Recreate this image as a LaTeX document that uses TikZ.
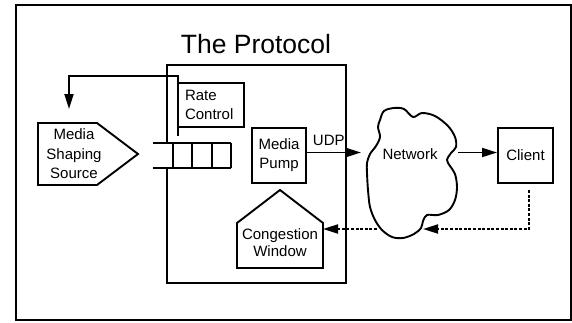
\documentclass[tikz,border=0pt]{standalone}
\usepackage{fontspec}
\setmainfont{Liberation Sans}
\usetikzlibrary{arrows.meta}
\begin{document}
\begin{tikzpicture}[x=1pt,y=-1pt, line width=1.9pt, line join=miter,
  lbl/.style={font=\fontsize{15}{19.5}\selectfont, align=center, inner sep=0pt},
  box/.style={draw, line width=1.9pt, inner sep=0pt, font=\fontsize{15}{19}\selectfont, align=center},
  arr/.style={-{Triangle[length=15pt,width=9pt]}},
  dsh/.style={dash pattern=on 3pt off 1.6pt}]
\useasboundingbox (0,0) rectangle (572,322);
% outer frame
\draw (16,5) rectangle (571,320);
% title
\node[font=\fontsize{26.5}{30}\selectfont, anchor=base, inner sep=0pt] (title) at (256,53) {The Protocol};
% protocol box (left edge interrupted by the queue)
\draw (167,143) -- (167,65) -- (346,65) -- (346,283) -- (167,283) -- (167,168);
% rate control
\node[box, minimum width=66pt, minimum height=44pt] (rate) at (211,105) {};
\node[lbl, align=left, anchor=west] (ratet) at ([xshift=7pt]rate.west) {Rate\\Control};
% queue
\node[minimum width=58pt, minimum height=25pt, inner sep=0pt] (queue) at (202,155.5) {};
\draw (153,143) -- (231,143) (153,168) -- (231,168);
\draw (173,143) -- (173,168) (192,143) -- (192,168) (212,143) -- (212,168) (231,143) -- (231,168);
% media shaping source
\draw (38,123) -- (97,123) -- (138,154) -- (97,185) -- (38,185) -- cycle;
\node[lbl] (src) at (74,154) {Media\\Shaping\\Source};
% rate control feedback line
\coordinate (rq) at (178,136);
\coordinate (rturn) at (69,76);
\coordinate (srctop) at (69,109);
\draw[arr] (rq) |- (rturn) -- (srctop);
% media pump
\node[box, minimum width=54pt, minimum height=55pt] (pump) at (279,155.5) {Media\\Pump};
\node[lbl, anchor=base west] (udp) at (312,145) {UDP};
% network cloud
\draw plot[smooth cycle, tension=0.55] coordinates {
 (380,120) (384,111) (394,108) (404,109) (413,117)
 (422,113) (435,116) (448,126) (455,137) (456,147) (451,153)
 (447,160) (450,166) (455,174) (457,187) (455,200) (449,210)
 (438,215) (427,215) (423,221) (421,228) (414,234) (403,238)
 (392,237) (382,230) (375,220) (370,207) (368,190) (367,173)
 (367,163) (370,154) (376,146) (380,137) (378,127)};
\node[lbl] (net) at (410,154) {Network};
\coordinate (netW) at (361,152.5);
\coordinate (netE) at (458,152.5);
\draw[arr] ([yshift=3pt]pump.east) -- (netW);
% client
\node[box, minimum width=55pt, minimum height=55pt] (client) at (525.5,155.5) {Client};
\draw[arr] (netE) -- ([yshift=3pt]client.west);
% congestion window
\draw (280,190) -- (323,223) -- (323,268) -- (237,268) -- (237,223) -- cycle;
\node[lbl, font=\fontsize{15}{17}\selectfont] (cong) at (280,243) {Congestion\\Window};
% dashed feedback
\coordinate (cl1) at (529,190);
\coordinate (cl2) at (529,229);
\coordinate (netB) at (423,229);
\coordinate (netL) at (377,229);
\coordinate (congE) at (323,229);
\draw[dsh, arr] (cl1) -- (cl2) -- (netB);
\draw[dsh, arr] (netL) -- (congE);
\end{tikzpicture}
\end{document}
